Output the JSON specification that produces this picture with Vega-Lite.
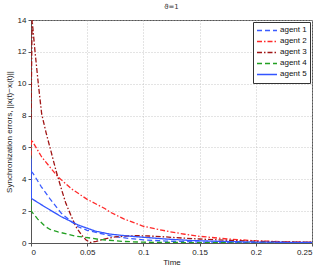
{
  "$schema": "https://vega.github.io/schema/vega-lite/v6.json",
  "autosize": "none",
  "width": 281,
  "height": 223,
  "padding": {"left": 31, "top": 20, "right": 12, "bottom": 23},
  "background": "white",
  "config": {
    "font": "Liberation Sans",
    "view": {"stroke": "#555", "strokeWidth": 1},
    "axis": {"labelFont": "Liberation Sans", "titleFont": "Liberation Sans", "labelFontSize": 8, "titleFontSize": 8, "labelColor": "#222", "titleColor": "#222", "titleFontWeight": "normal", "domainColor": "#555", "tickColor": "#555", "gridColor": "#bbb", "gridDash": [1, 2], "gridWidth": 0.8, "tickSize": 3}
  },
  "title": {"text": "ϑ=1", "fontSize": 7, "fontWeight": "normal", "color": "#333", "font": "DejaVu Sans", "offset": 6},
  "data": {"values": [
    {"agent": "agent 1", "t": 0, "e": 4.5},
    {"agent": "agent 1", "t": 0.0018, "e": 4.37},
    {"agent": "agent 1", "t": 0.0092, "e": 3.53},
    {"agent": "agent 1", "t": 0.0166, "e": 2.8},
    {"agent": "agent 1", "t": 0.027, "e": 1.86},
    {"agent": "agent 1", "t": 0.036, "e": 1.34},
    {"agent": "agent 1", "t": 0.042, "e": 1.02},
    {"agent": "agent 1", "t": 0.05, "e": 0.8},
    {"agent": "agent 1", "t": 0.057, "e": 0.68},
    {"agent": "agent 1", "t": 0.071, "e": 0.45},
    {"agent": "agent 1", "t": 0.085, "e": 0.3},
    {"agent": "agent 1", "t": 0.1, "e": 0.2},
    {"agent": "agent 1", "t": 0.12, "e": 0.12},
    {"agent": "agent 1", "t": 0.15, "e": 0.06},
    {"agent": "agent 1", "t": 0.2, "e": 0.02},
    {"agent": "agent 1", "t": 0.25, "e": 0.01},
    {"agent": "agent 2", "t": 0, "e": 5.5},
    {"agent": "agent 2", "t": 0.0003, "e": 6.5},
    {"agent": "agent 2", "t": 0.0095, "e": 5.4},
    {"agent": "agent 2", "t": 0.024, "e": 4.15},
    {"agent": "agent 2", "t": 0.036, "e": 3.4},
    {"agent": "agent 2", "t": 0.05, "e": 2.74},
    {"agent": "agent 2", "t": 0.066, "e": 2.15},
    {"agent": "agent 2", "t": 0.07, "e": 1.95},
    {"agent": "agent 2", "t": 0.083, "e": 1.5},
    {"agent": "agent 2", "t": 0.1, "e": 1.05},
    {"agent": "agent 2", "t": 0.11, "e": 0.9},
    {"agent": "agent 2", "t": 0.124, "e": 0.7},
    {"agent": "agent 2", "t": 0.137, "e": 0.55},
    {"agent": "agent 2", "t": 0.15, "e": 0.42},
    {"agent": "agent 2", "t": 0.175, "e": 0.25},
    {"agent": "agent 2", "t": 0.2, "e": 0.14},
    {"agent": "agent 2", "t": 0.225, "e": 0.08},
    {"agent": "agent 2", "t": 0.25, "e": 0.05},
    {"agent": "agent 3", "t": 0, "e": 7.8},
    {"agent": "agent 3", "t": 0.001, "e": 14},
    {"agent": "agent 3", "t": 0.0036, "e": 12},
    {"agent": "agent 3", "t": 0.0065, "e": 10},
    {"agent": "agent 3", "t": 0.0095, "e": 8.1},
    {"agent": "agent 3", "t": 0.0135, "e": 6.9},
    {"agent": "agent 3", "t": 0.018, "e": 5.7},
    {"agent": "agent 3", "t": 0.0225, "e": 4.47},
    {"agent": "agent 3", "t": 0.027, "e": 3.4},
    {"agent": "agent 3", "t": 0.031, "e": 2.49},
    {"agent": "agent 3", "t": 0.036, "e": 1.65},
    {"agent": "agent 3", "t": 0.04, "e": 1.02},
    {"agent": "agent 3", "t": 0.045, "e": 0.5},
    {"agent": "agent 3", "t": 0.049, "e": 0.19},
    {"agent": "agent 3", "t": 0.053, "e": 0.03},
    {"agent": "agent 3", "t": 0.058, "e": 0.1},
    {"agent": "agent 3", "t": 0.065, "e": 0.25},
    {"agent": "agent 3", "t": 0.075, "e": 0.38},
    {"agent": "agent 3", "t": 0.085, "e": 0.44},
    {"agent": "agent 3", "t": 0.095, "e": 0.46},
    {"agent": "agent 3", "t": 0.105, "e": 0.44},
    {"agent": "agent 3", "t": 0.12, "e": 0.38},
    {"agent": "agent 3", "t": 0.135, "e": 0.31},
    {"agent": "agent 3", "t": 0.15, "e": 0.25},
    {"agent": "agent 3", "t": 0.175, "e": 0.17},
    {"agent": "agent 3", "t": 0.2, "e": 0.11},
    {"agent": "agent 3", "t": 0.225, "e": 0.07},
    {"agent": "agent 3", "t": 0.25, "e": 0.05},
    {"agent": "agent 4", "t": 0, "e": 2.6},
    {"agent": "agent 4", "t": 0.0003, "e": 2.0},
    {"agent": "agent 4", "t": 0.006, "e": 1.5},
    {"agent": "agent 4", "t": 0.0125, "e": 1.05},
    {"agent": "agent 4", "t": 0.017, "e": 0.85},
    {"agent": "agent 4", "t": 0.024, "e": 0.7},
    {"agent": "agent 4", "t": 0.039, "e": 0.44},
    {"agent": "agent 4", "t": 0.054, "e": 0.3},
    {"agent": "agent 4", "t": 0.061, "e": 0.22},
    {"agent": "agent 4", "t": 0.082, "e": 0.1},
    {"agent": "agent 4", "t": 0.1, "e": 0.05},
    {"agent": "agent 4", "t": 0.15, "e": 0.02},
    {"agent": "agent 4", "t": 0.25, "e": 0.0},
    {"agent": "agent 5", "t": 0, "e": 5.3},
    {"agent": "agent 5", "t": 0.0003, "e": 2.8},
    {"agent": "agent 5", "t": 0.012, "e": 2.28},
    {"agent": "agent 5", "t": 0.027, "e": 1.65},
    {"agent": "agent 5", "t": 0.042, "e": 1.13},
    {"agent": "agent 5", "t": 0.057, "e": 0.75},
    {"agent": "agent 5", "t": 0.07, "e": 0.56},
    {"agent": "agent 5", "t": 0.086, "e": 0.44},
    {"agent": "agent 5", "t": 0.1, "e": 0.36},
    {"agent": "agent 5", "t": 0.12, "e": 0.25},
    {"agent": "agent 5", "t": 0.144, "e": 0.15},
    {"agent": "agent 5", "t": 0.17, "e": 0.1},
    {"agent": "agent 5", "t": 0.2, "e": 0.06},
    {"agent": "agent 5", "t": 0.25, "e": 0.03}
  ]},
  "mark": {"type": "line", "strokeWidth": 1.3, "clip": true},
  "encoding": {
    "x": {"field": "t", "type": "quantitative", "scale": {"domain": [0, 0.25], "nice": false}, "axis": {"values": [0, 0.05, 0.1, 0.15, 0.2, 0.25], "title": "Time", "titlePadding": 2, "labelPadding": 2, "format": "~g"}},
    "y": {"field": "e", "type": "quantitative", "scale": {"domain": [0, 14], "nice": false}, "axis": {"values": [0, 2, 4, 6, 8, 10, 12, 14], "title": "Synchronization errors, ||x(t)−xᵢ(t)||", "titlePadding": 4, "labelPadding": 2}},
    "color": {"field": "agent", "type": "nominal", "scale": {"domain": ["agent 1", "agent 2", "agent 3", "agent 4", "agent 5"], "range": ["#3b5cff", "#ff2a2a", "#a01515", "#22a022", "#3355ff"]},
      "legend": {"orient": "none", "legendX": 222, "legendY": 2, "title": null, "strokeColor": "#333", "fillColor": "white", "padding": 3, "labelFontSize": 8, "labelFont": "Liberation Sans", "labelColor": "#111", "symbolType": "stroke", "symbolSize": 400, "symbolStrokeWidth": 1.5, "rowPadding": 0, "clipHeight": 10.8, "labelOffset": 2}},
    "strokeDash": {"field": "agent", "type": "nominal", "scale": {"domain": ["agent 1", "agent 2", "agent 3", "agent 4", "agent 5"], "range": [[5, 3], [5, 2, 1.5, 2], [5, 2, 1.5, 2], [5, 3], [1, 0]]}, "legend": null}
  }
}
